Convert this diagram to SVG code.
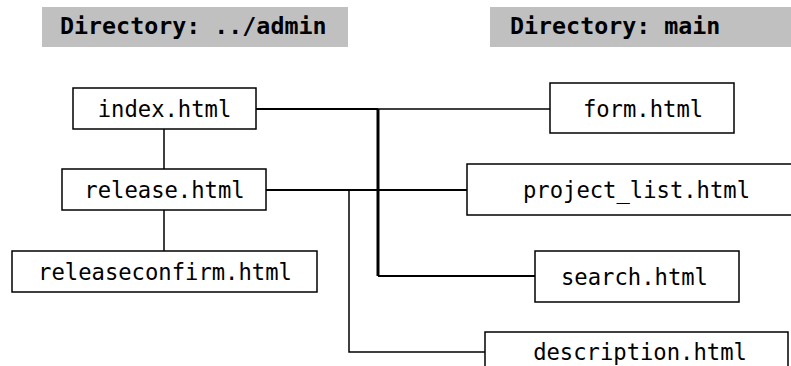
<svg xmlns="http://www.w3.org/2000/svg" width="791" height="366" viewBox="0 0 791 366">
  <style>
    .hdr { fill: #c0c0c0; }
    .hdr-text { font-family: "DejaVu Sans Mono", "Liberation Mono", monospace; font-size: 23.3px; font-weight: bold; fill: #000; }
    .box { fill: #fff; stroke: #000; stroke-width: 1.5; }
    .label { font-family: "DejaVu Sans Mono", "Liberation Mono", monospace; font-size: 22.2px; fill: #000; text-anchor: middle; }
    .wire { fill: none; stroke: #000; stroke-width: 2; }
    .wire-thin { fill: none; stroke: #000; stroke-width: 1.5; }
    .trunk { fill: none; stroke: #000; stroke-width: 3; }
  </style>

  <!-- directory headers -->
  <g id="header-admin">
    <rect class="hdr" x="42" y="7" width="306" height="40"/>
    <text class="hdr-text" x="60" y="34">Directory: ../admin</text>
  </g>
  <g id="header-main">
    <rect class="hdr" x="490" y="7" width="301" height="40"/>
    <text class="hdr-text" x="510" y="34">Directory: main</text>
  </g>

  <!-- links between pages -->
  <g id="connectors">
    <line class="wire-thin" x1="164" y1="129" x2="164" y2="169"/>
    <line class="wire-thin" x1="164" y1="210" x2="164" y2="251"/>
    <line class="wire" x1="256" y1="109" x2="378" y2="109"/>
    <line class="wire-thin" x1="378" y1="109" x2="550" y2="109"/>
    <line class="wire" x1="266" y1="190" x2="467" y2="190"/>
    <line class="trunk" x1="378" y1="109" x2="378" y2="276"/>
    <line class="wire" x1="378" y1="276" x2="535" y2="276"/>
    <polyline class="wire-thin" points="349,190 349,352 485,352"/>
  </g>

  <!-- admin pages -->
  <g id="node-index">
    <rect class="box" x="73" y="88" width="183" height="41"/>
    <text class="label" x="164.5" y="116.5">index.html</text>
  </g>
  <g id="node-release">
    <rect class="box" x="62" y="169" width="204" height="41"/>
    <text class="label" x="164.5" y="198">release.html</text>
  </g>
  <g id="node-releaseconfirm">
    <rect class="box" x="12" y="251" width="305" height="41"/>
    <text class="label" x="165" y="280">releaseconfirm.html</text>
  </g>

  <!-- main pages -->
  <g id="node-form">
    <rect class="box" x="550" y="83" width="184" height="50"/>
    <text class="label" x="643" y="117">form.html</text>
  </g>
  <g id="node-project-list">
    <rect class="box" x="467" y="164" width="330" height="51"/>
    <text class="label" x="636.5" y="198">project_list.html</text>
  </g>
  <g id="node-search">
    <rect class="box" x="535" y="251" width="204" height="51"/>
    <text class="label" x="634.5" y="285">search.html</text>
  </g>
  <g id="node-description">
    <rect class="box" x="485" y="332" width="303" height="50"/>
    <text class="label" x="640" y="360">description.html</text>
  </g>
</svg>
